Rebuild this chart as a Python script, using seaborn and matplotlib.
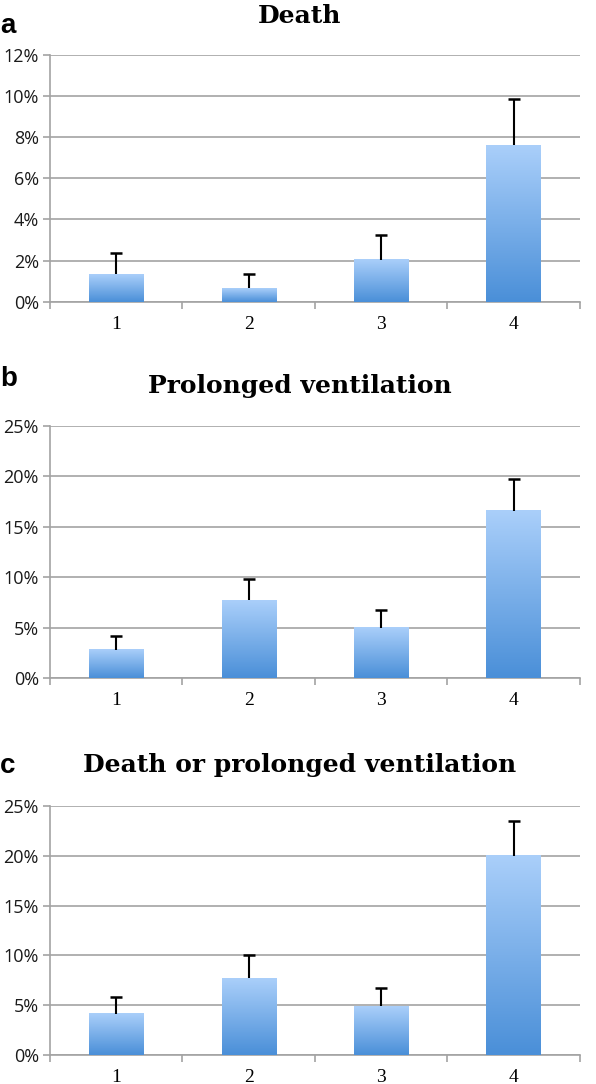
import numpy as np
import pandas as pd
import matplotlib
matplotlib.use("Agg")
import matplotlib.pyplot as plt
import seaborn as sns
from matplotlib.colors import LinearSegmentedColormap
from matplotlib.ticker import FixedLocator, FuncFormatter

groups = ["1", "2", "3", "4"]
death = [1.35, 0.65, 2.05, 7.6]
death_err = [1.0, 0.7, 1.2, 2.25]
prolonged = [2.8, 7.7, 5.0, 16.6]
prolonged_err = [1.35, 2.15, 1.75, 3.1]
combined = [4.15, 7.7, 4.9, 20.0]
combined_err = [1.65, 2.3, 1.8, 3.45]

titles = ["Death", "Prolonged ventilation", "Death or prolonged ventilation"]
letters = ["a", "b", "c"]
ymaxes = [12, 25, 25]
ysteps = [2, 5, 5]

sns.set_theme(style="white")
plt.rcParams["font.family"] = ["DejaVu Sans"]

fig = plt.figure(figsize=(5.96, 10.84), dpi=100)
axes_pos = [
    [0.0839, 0.7217, 0.889, 0.2276],
    [0.0839, 0.3745, 0.889, 0.2325],
    [0.0839, 0.0268, 0.889, 0.2297],
]
title_y = [1 - 16 / 1084, 1 - 386 / 1084, 1 - 765 / 1084]
letter_y = [1 - 26 / 1084, 1 - 379 / 1084, 1 - 766 / 1084]

cmap = LinearSegmentedColormap.from_list("grad", ["#4a8fd8", "#aacffa"])
grad = np.linspace(0, 1, 256).reshape(-1, 1)

series = [(death, death_err), (prolonged, prolonged_err), (combined, combined_err)]
grid_color = "#a3a3a3"

for i, (vals, errs) in enumerate(series):
    ax = fig.add_axes(axes_pos[i])
    df = pd.DataFrame({"group": groups, "value": vals})
    sns.barplot(data=df, x="group", y="value", ax=ax, width=0.41,
                color="#7ab0ec", errorbar=None, zorder=3, linewidth=0)
    ax.set_xlim(-0.5, 3.5)
    ax.set_ylim(0, ymaxes[i])
    # gradient fill per bar
    for p in ax.patches:
        x0, y0 = p.get_x(), p.get_y()
        w, h = p.get_width(), p.get_height()
        p.set_alpha(0)
        ax.imshow(grad, extent=[x0, x0 + w, y0, y0 + h], origin="lower",
                  cmap=cmap, aspect="auto", zorder=3)
    # upper-only error bars (line + top cap)
    xs = np.arange(len(groups))
    tops = np.array(vals) + np.array(errs)
    ax.errorbar(xs, vals, yerr=[np.zeros(len(errs)), errs], fmt="none",
                ecolor="black", elinewidth=1.5, capsize=0, zorder=4)
    ax.plot(xs, tops, linestyle="none", marker="_", markersize=9,
            markeredgewidth=1.8, color="black", zorder=4)
    ax.set_aspect("auto")
    ax.set_xlim(-0.5, 3.5)
    ax.set_ylim(0, ymaxes[i])

    yt = np.arange(0, ymaxes[i] + 0.01, ysteps[i])
    ax.set_yticks(yt)
    ax.yaxis.set_major_formatter(FuncFormatter(lambda v, pos: f"{int(round(v))}%"))
    ax.grid(axis="y", color=grid_color, linewidth=1.2, zorder=0)
    ax.set_axisbelow(True)

    ax.set_xticks(xs)
    ax.set_xticklabels(groups)
    ax.xaxis.set_minor_locator(FixedLocator([-0.5, 0.5, 1.5, 2.5, 3.5]))
    ax.tick_params(axis="x", which="major", length=0, pad=10, labelsize=12)
    ax.tick_params(axis="x", which="minor", length=5, width=1.2, color=grid_color,
                   direction="out", bottom=True)
    ax.tick_params(axis="y", which="major", length=5, width=1.2, color=grid_color,
                   direction="out", left=True, pad=3, labelsize=13)
    for lab in ax.get_xticklabels():
        lab.set_fontfamily("Liberation Serif")
        lab.set_fontsize(14)
        lab.set_color("black")
    for lab in ax.get_yticklabels():
        lab.set_fontfamily("Open Sans")
        lab.set_color("#1a1a1a")

    for s in ["top", "right"]:
        ax.spines[s].set_visible(False)
    for s in ["left", "bottom"]:
        ax.spines[s].set_color(grid_color)
        ax.spines[s].set_linewidth(1.2)
    ax.set_xlabel("")
    ax.set_ylabel("")

    fig.text(0.503, title_y[i], titles[i], ha="center", va="center",
             fontsize=18, fontweight="bold", family="DejaVu Serif", color="black")
    fig.text(0.0, letter_y[i], letters[i], ha="left", va="center",
             fontsize=20, fontweight="bold", family="Liberation Sans", color="black")

fig.savefig("out.png", dpi=100)
